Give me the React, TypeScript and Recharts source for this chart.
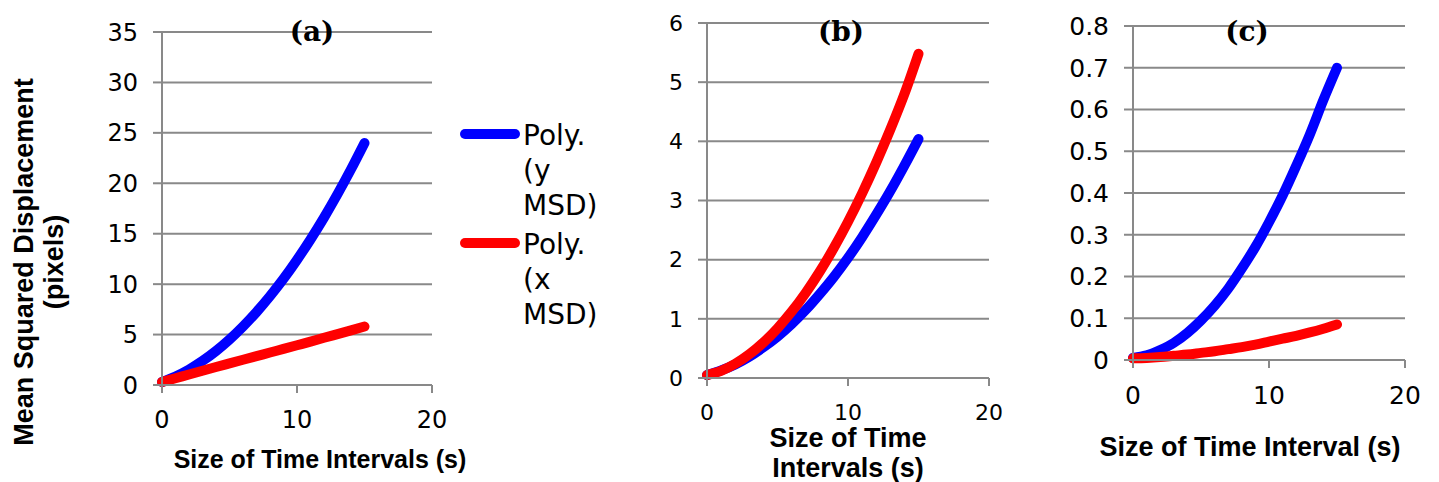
import React from 'react'
import { LineChart, Line, XAxis, YAxis, CartesianGrid, Label } from 'recharts'

// time interval (s), same for every panel
const T = [0, 1, 2, 3, 4, 5, 6, 7, 8, 9, 10, 11, 12, 13, 14, 15]

// (a)
const A_Y_MSD = [0.3, 0.85, 1.54, 2.38, 3.37, 4.51, 5.8, 7.23, 8.81, 10.53, 12.41, 14.43, 16.6, 18.92, 21.39, 24.0]
const A_X_MSD = [0.3, 0.67, 1.04, 1.41, 1.78, 2.14, 2.5, 2.86, 3.22, 3.58, 3.94, 4.3, 4.68, 5.05, 5.42, 5.8]
// (b)
const B_Y_MSD = [0.05, 0.13, 0.23, 0.36, 0.52, 0.7, 0.91, 1.15, 1.42, 1.71, 2.03, 2.38, 2.76, 3.16, 3.59, 4.04]
const B_X_MSD = [0.05, 0.12, 0.24, 0.4, 0.6, 0.84, 1.12, 1.44, 1.8, 2.2, 2.64, 3.12, 3.64, 4.2, 4.8, 5.48]
// (c)
const C_Y_MSD = [0.005, 0.011, 0.024, 0.041, 0.065, 0.095, 0.13, 0.171, 0.219, 0.271, 0.33, 0.394, 0.465, 0.54, 0.623, 0.7]
const C_X_MSD = [0.004, 0.005, 0.007, 0.01, 0.013, 0.017, 0.021, 0.026, 0.031, 0.037, 0.044, 0.051, 0.058, 0.066, 0.075, 0.085]

const X_TICKS = [0, 10, 20]
const A_TICKS = [0, 5, 10, 15, 20, 25, 30, 35]
const B_TICKS = [0, 1, 2, 3, 4, 5, 6]
const C_TICKS = [0, 0.1, 0.2, 0.3, 0.4, 0.5, 0.6, 0.7, 0.8]

const BLUE = '#0000ff'
const RED = '#ff0000'
const GRID = '#898989'
const SANS = 'DejaVu Sans'
const BOLD = '"Liberation Sans", Arial, sans-serif'

const LEGEND = [
  { lines: ['Poly.', '(y', 'MSD)'], color: BLUE },
  { lines: ['Poly.', '(x', 'MSD)'], color: RED },
]

const build = (ys: number[], xs: number[]) => T.map((t, i) => ({ t, y: ys[i], x: xs[i] }))

const textBlock =
  (lines: string[], x: number, y: number, size: number, lh: number, opts: { serif?: boolean; rotate?: boolean } = {}) =>
  () => (
    <text
      x={opts.rotate ? -y : x}
      y={opts.rotate ? x : y}
      transform={opts.rotate ? 'rotate(-90)' : undefined}
      textAnchor="middle"
      fill="#000"
      fontWeight="bold"
      fontSize={size}
      fontFamily={opts.serif ? 'DejaVu Serif' : BOLD}
    >
      {lines.map((l, i) => (
        <tspan key={i} x={opts.rotate ? -y : x} dy={i === 0 ? 0 : lh}>
          {l}
        </tspan>
      ))}
    </text>
  )

interface PanelProps {
  left: number
  width: number
  margin: { top: number; right: number }
  yWidth: number
  xHeight: number
  yDomain: [number, number]
  yTicks: number[]
  fontSize: number
  xTickMargin: number
  data: { t: number; y: number; x: number }[]
  title: string
  titleX: number
  xTitle: string[]
  xTitleX: number
  xTitleY: number
  xTitleSize: number
  yTitle?: string[]
}

function Panel(p: PanelProps) {
  const tick = { fill: '#000', fontSize: p.fontSize, fontFamily: SANS }
  return (
    <div style={{ position: 'absolute', left: p.left, top: 0 }}>
      <LineChart width={p.width} height={482} data={p.data} margin={{ top: p.margin.top, right: p.margin.right, left: 0, bottom: 0 }}>
        <CartesianGrid vertical={false} stroke={GRID} strokeWidth={2} />
        <XAxis
          dataKey="t"
          type="number"
          domain={[0, 20]}
          ticks={X_TICKS}
          interval={0}
          height={p.xHeight}
          tick={tick}
          tickSize={8}
          tickMargin={p.xTickMargin}
          axisLine={{ stroke: GRID, strokeWidth: 2 }}
          tickLine={{ stroke: GRID, strokeWidth: 2 }}
        >
          <Label content={textBlock(p.xTitle, p.xTitleX, p.xTitleY, p.xTitleSize, 30)} />
          <Label content={textBlock([p.title], p.titleX, 41, 28, 0, { serif: true })} />
        </XAxis>
        <YAxis
          type="number"
          domain={p.yDomain}
          ticks={p.yTicks}
          interval={0}
          width={p.yWidth}
          tick={tick}
          tickSize={9}
          tickMargin={15}
          axisLine={{ stroke: GRID, strokeWidth: 2 }}
          tickLine={{ stroke: GRID, strokeWidth: 2 }}
        >
          {p.yTitle && <Label content={textBlock(p.yTitle, 33, 262, 27, 30, { rotate: true })} />}
        </YAxis>
        <Line dataKey="y" type="monotone" stroke={BLUE} strokeWidth={10} strokeLinecap="round" dot={false} activeDot={false} isAnimationActive={false} />
        <Line dataKey="x" type="monotone" stroke={RED} strokeWidth={10} strokeLinecap="round" dot={false} activeDot={false} isAnimationActive={false} />
      </LineChart>
    </div>
  )
}

function LegendBox() {
  return (
    <svg style={{ position: 'absolute', left: 450, top: 110 }} width={150} height={240}>
      {LEGEND.map((e, i) => {
        const y0 = 24 + i * 109
        return (
          <g key={i}>
            <line x1={15} x2={65} y1={y0} y2={y0} stroke={e.color} strokeWidth={10} strokeLinecap="round" />
            <text x={73} y={y0 + 11} fontSize={28} fontFamily={SANS} fill="#000">
              {e.lines.map((l, j) => (
                <tspan key={j} x={73} dy={j === 0 ? 0 : 35}>
                  {l}
                </tspan>
              ))}
            </text>
          </g>
        )
      })}
    </svg>
  )
}

export default function App() {
  return (
    <div style={{ position: 'absolute', left: 0, top: 0, width: 1439, height: 482, background: '#fff', overflow: 'hidden' }}>
      <Panel
        left={0}
        width={480}
        margin={{ top: 32, right: 48 }}
        yWidth={162}
        xHeight={97}
        yDomain={[0, 35]}
        yTicks={A_TICKS}
        fontSize={24}
        xTickMargin={18}
        data={build(A_Y_MSD, A_X_MSD)}
        title="(a)"
        titleX={312}
        xTitle={['Size of Time Intervals (s)']}
        xTitleX={320}
        xTitleY={468}
        xTitleSize={25}
        yTitle={['Mean Squared Displacement', '(pixels)']}
      />
      <LegendBox />
      <Panel
        left={480}
        width={540}
        margin={{ top: 23, right: 31 }}
        yWidth={227}
        xHeight={104}
        yDomain={[0, 6]}
        yTicks={B_TICKS}
        fontSize={22}
        xTickMargin={18}
        data={build(B_Y_MSD, B_X_MSD)}
        title="(b)"
        titleX={361}
        xTitle={['Size of Time', 'Intervals (s)']}
        xTitleX={368}
        xTitleY={447}
        xTitleSize={27}
      />
      <Panel
        left={1000}
        width={439}
        margin={{ top: 26, right: 34 }}
        yWidth={133}
        xHeight={122}
        yDomain={[0, 0.8]}
        yTicks={C_TICKS}
        fontSize={25}
        xTickMargin={18}
        data={build(C_Y_MSD, C_X_MSD)}
        title="(c)"
        titleX={247}
        xTitle={['Size of Time Interval (s)']}
        xTitleX={250}
        xTitleY={456}
        xTitleSize={27}
      />
    </div>
  )
}
